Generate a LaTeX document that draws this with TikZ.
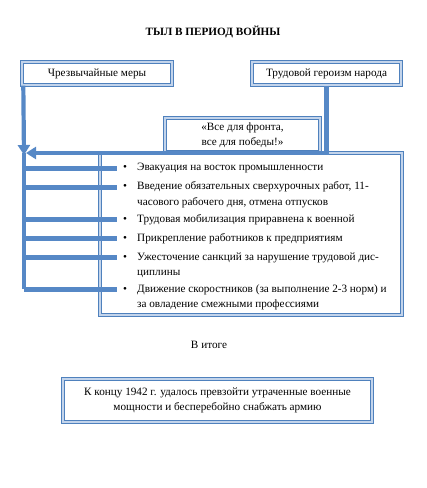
\documentclass[tikz,border=0pt]{standalone}
\usepackage{fontspec}
\setmainfont{Liberation Serif}
\usetikzlibrary{arrows.meta,positioning}
\definecolor{frameblue}{RGB}{79,129,189}
\definecolor{framelight}{RGB}{195,212,235}
\definecolor{linkblue}{RGB}{86,136,198}
\tikzset{
  box/.style={draw=frameblue, double=framelight, double distance=1.1pt,
    line width=1.4pt, fill=white, inner sep=0pt, align=center},
  link/.style={draw=linkblue, line width=4.2bp},
  tip/.style={-{Triangle[length=10bp,width=12bp]}},
  punkt/.style={anchor=base west, inner sep=0pt, align=left},
  marker/.style={anchor=base, inner sep=0pt, minimum width=16bp}
}
\begin{document}
\begin{tikzpicture}[x=1bp, y=-1bp, font=\fontsize{11.2bp}{15.5bp}\selectfont,
    line join=miter]
  \useasboundingbox (0,0) rectangle (426,488);
  % Заголовок
  \node[font=\fontsize{11.2bp}{13bp}\selectfont\bfseries] (title) at (213,32) {ТЫЛ В ПЕРИОД ВОЙНЫ};
  % Верхние блоки
  \node[box, minimum width=150bp, minimum height=23bp] (mery) at (97,73.5) {Чрезвычайные меры};
  \node[box, minimum width=149bp, minimum height=23bp] (geroizm) at (326.5,73.5) {Трудовой героизм народа};
  \node[box, minimum width=155bp, minimum height=34bp] (lozung) at (242.5,135) {«Все для фронта,\\все для победы!»};
  % Блок со списком мер
  \node[box, minimum width=302bp, minimum height=162bp] (spisok) at (251,234) {};
  \node[marker] (b1) at (125,171) {\textbullet};
  \node[marker] (b2) at (125,190) {\textbullet};
  \node[marker] (b3) at (125,222) {\textbullet};
  \node[marker] (b4) at (125,241) {\textbullet};
  \node[marker] (b5) at (125,260) {\textbullet};
  \node[marker] (b6) at (125,292) {\textbullet};
  % у многострочных пунктов base = последняя строка
  \node[punkt] (p1) at (137,171) {Эвакуация на восток промышленности};
  \node[punkt] (p2) at (137,205.5) {Введение обязательных сверхурочных работ, 11-\\часового рабочего дня, отмена отпусков};
  \node[punkt] (p3) at (137,222) {Трудовая мобилизация приравнена к военной};
  \node[punkt] (p4) at (137,241) {Прикрепление работников к предприятиям};
  \node[punkt] (p5) at (137,275.5) {Ужесточение санкций за нарушение трудовой дис-\\циплины};
  \node[punkt] (p6) at (137,307.5) {Движение скоростников (за выполнение 2-3 норм) и\\за овладение смежными профессиями};
  % Итог
  \node (vitoge) at (209,345) {В итоге};
  \node[box, minimum width=309bp, minimum height=43bp] (itog) at (217.5,400.5) {К концу 1942 г. удалось превзойти утраченные военные\\мощности и бесперебойно снабжать армию};
  % Стрелки и линии
  \coordinate (hub) at (24,153);
  \draw[link, tip] ([xshift=2bp]mery.south west) -- ([yshift=-2bp]hub);
  \draw[link, tip] (geroizm.south) -- (geroizm.south |- hub) -- ([xshift=2bp]hub);
  \draw[link] (hub) -- (hub |- b6);
  \foreach \i in {1,...,6}{\draw[link] (hub |- b\i) -- (b\i.west);}
\end{tikzpicture}
\end{document}
